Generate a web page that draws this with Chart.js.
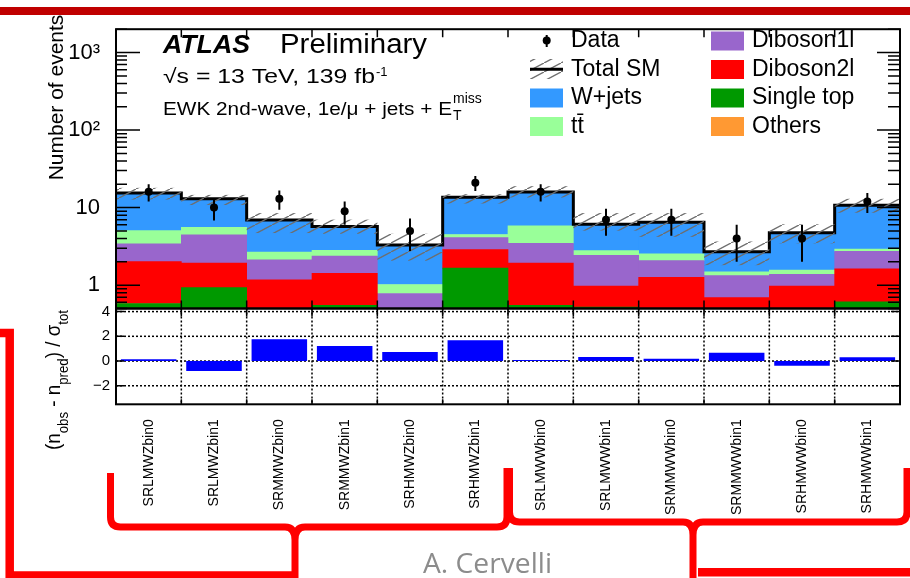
<!DOCTYPE html>
<html>
<head>
<meta charset="utf-8">
<script src="https://cdn.jsdelivr.net/npm/chart.js@4/dist/chart.umd.min.js"></script>
<style>
  html, body { margin: 0; padding: 0; background: #fff; }
  #wrap { position: relative; width: 910px; height: 578px; overflow: hidden; background: #fff; }
  #wrap canvas { position: absolute; left: 0; top: 0; }
</style>
</head>
<body>
<div id="wrap">
  <canvas id="main" width="910" height="578"></canvas>
  <canvas id="pull" width="910" height="578"></canvas>
</div>
<script>
// Signal regions (x categories)
const regions = ['SRLMWZbin0', 'SRLMWZbin1', 'SRMMWZbin0', 'SRMMWZbin1', 'SRHMWZbin0', 'SRHMWZbin1',
                 'SRLMWWbin0', 'SRLMWWbin1', 'SRMMWWbin0', 'SRMMWWbin1', 'SRHMWWbin0', 'SRHMWWbin1'];

// Background yields per region, stacked bottom to top
const others    = [0.03, 0.03, 0.03, 0.03, 0.03, 0.03, 0.03, 0.03, 0.03, 0.03, 0.03, 0.03];
const singleTop = [0.55, 0.90, 0.10, 0.52, 0.10, 1.63, 0.52, 0.49, 0.10, 0.10, 0.10, 0.58];
const diboson2l = [1.43, 0.99, 1.04, 0.87, 0.20, 1.21, 1.37, 0.45, 1.13, 0.56, 0.84, 1.02];
const diboson1l = [1.39, 2.55, 0.95, 0.96, 0.45, 1.23, 1.55, 1.45, 0.81, 0.64, 0.41, 1.11];
const ttbar     = [1.65, 1.08, 0.55, 0.44, 0.24, 0.40, 2.34, 0.37, 0.47, 0.16, 0.18, 0.19];
const wjets     = [10.35, 7.45, 4.23, 2.89, 2.28, 9.10, 10.09, 3.31, 3.96, 1.20, 3.17, 7.77];

// Total SM uncertainty band (lower / upper edge)
const bandLow  = [12.7, 10.8, 4.7, 4.6, 2.07, 11.3, 13.5, 5.05, 4.2, 1.81, 3.46, 8.6];
const bandHigh = [18.0, 14.6, 8.5, 7.0, 4.6, 14.9, 18.9, 8.5, 8.5, 3.66, 6.1, 13.0];

// Observed data with error bar ends
const observed = [16, 10, 13, 9, 5, 21, 16, 7, 7, 4, 4, 12];
const dataLow  = [12, 6.84, 9.4, 6, 2.76, 16.4, 12, 4.35, 4.35, 2, 2, 8.54];
const dataHigh = [20, 13.16, 16.6, 12, 7.24, 25.6, 20, 9.65, 9.65, 6, 6, 15.46];

// Significance (n_obs - n_pred) / sigma_tot
const pull = [0.14, -0.81, 1.76, 1.22, 0.73, 1.68, 0.08, 0.32, 0.19, 0.68, -0.38, 0.30];

// Axis ticks
const mainTickValues = [0.5, 0.6, 0.7, 0.8, 0.9, 1, 2, 3, 4, 5, 6, 7, 8, 9,
  10, 20, 30, 40, 50, 60, 70, 80, 90, 100, 200, 300, 400, 500, 600, 700, 800, 900, 1000, 2000];
const decadeLabels = { 1: '1', 10: '10', 100: '10\u00B2', 1000: '10\u00B3' };
const pullTickValues = [-2, 0, 2, 4];
const pullTickLabels = { '-2': '\u22122', '0': '0', '2': '2', '4': '4' };

const FONT = '"Liberation Sans", Arial, Helvetica, sans-serif';
const COL = {
  wjets: '#3399ff', ttbar: '#99ff99', d1l: '#9966cc', d2l: '#ff0000', st: '#009900', oth: '#ff9933'
};

// Hatch pattern for the uncertainty band
function makeHatch() {
  const c = document.createElement('canvas');
  c.width = 17; c.height = 9;
  const g = c.getContext('2d');
  g.strokeStyle = '#6e6e6e';
  g.lineWidth = 1.4;
  g.beginPath();
  g.moveTo(-1, 9.5); g.lineTo(18, -0.5);
  g.stroke();
  return g.createPattern(c, 'repeat');
}

function fitText(ctx, str, x, y, w) {
  const m = ctx.measureText(str).width;
  ctx.save();
  ctx.translate(x, y);
  if (w) ctx.scale(w / m, 1);
  ctx.fillText(str, 0, 0);
  ctx.restore();
}

function binHalf(xs) { return (xs.getPixelForValue(1) - xs.getPixelForValue(0)) / 2; }

const totals = regions.map((_, i) =>
  others[i] + singleTop[i] + diboson2l[i] + diboson1l[i] + ttbar[i] + wjets[i]);

let hatch = null;

const mainDecor = {
  id: 'mainDecor',
  beforeDatasetDraw(chart, args) {
    if (args.index !== 6) return;
    const ctx = chart.ctx, xs = chart.scales.x, ys = chart.scales.y, a = chart.chartArea;
    const h = binHalf(xs);
    if (!hatch) hatch = makeHatch();
    ctx.save();
    ctx.beginPath(); ctx.rect(a.left, a.top, a.right - a.left, a.bottom - a.top); ctx.clip();
    // total SM outline
    ctx.strokeStyle = '#000'; ctx.lineWidth = 3; ctx.lineJoin = 'miter';
    ctx.beginPath();
    totals.forEach((t, i) => {
      const c = xs.getPixelForValue(i), py = ys.getPixelForValue(t);
      if (i === 0) ctx.moveTo(c - h, py); else ctx.lineTo(c - h, py);
      ctx.lineTo(c + h, py);
    });
    ctx.stroke();
    // uncertainty band
    ctx.fillStyle = hatch;
    regions.forEach((_, i) => {
      const c = xs.getPixelForValue(i);
      const yt = ys.getPixelForValue(bandHigh[i]), yb = ys.getPixelForValue(bandLow[i]);
      ctx.fillRect(c - h, yt, 2 * h, yb - yt);
    });
    // data error bars
    ctx.strokeStyle = '#000'; ctx.lineWidth = 2;
    regions.forEach((_, i) => {
      const c = xs.getPixelForValue(i);
      ctx.beginPath();
      ctx.moveTo(c, ys.getPixelForValue(dataHigh[i]));
      ctx.lineTo(c, ys.getPixelForValue(dataLow[i]));
      ctx.stroke();
    });
    ctx.restore();
  },
  afterDraw(chart) {
    const ctx = chart.ctx, xs = chart.scales.x, ys = chart.scales.y, a = chart.chartArea;
    const h = binHalf(xs);
    ctx.save();
    ctx.strokeStyle = '#000';
    // log ticks on both sides
    ctx.lineWidth = 1.5;
    ys.ticks.forEach(t => {
      const v = t.value, py = ys.getPixelForValue(v);
      const major = decadeLabels[v] !== undefined;
      const lenL = major ? 24 : 11, lenR = major ? 23 : 12;
      ctx.beginPath();
      ctx.moveTo(a.left, py); ctx.lineTo(a.left + lenL, py);
      ctx.moveTo(a.right, py); ctx.lineTo(a.right - lenR, py);
      ctx.stroke();
    });
    // bin edge ticks
    for (let i = 1; i < regions.length; i++) {
      const ex = xs.getPixelForValue(i) - h;
      ctx.beginPath();
      ctx.moveTo(ex, a.top); ctx.lineTo(ex, a.top + 8);
      ctx.moveTo(ex, a.bottom); ctx.lineTo(ex, a.bottom - 8);
      ctx.stroke();
    }
    // frame
    ctx.lineWidth = 2;
    ctx.strokeRect(a.left, a.top, a.right - a.left, a.bottom - a.top);

    // y title
    ctx.fillStyle = '#000';
    ctx.save();
    ctx.translate(63, 97.5); ctx.rotate(-Math.PI / 2);
    ctx.font = '21px ' + FONT; ctx.textAlign = 'center'; ctx.textBaseline = 'alphabetic';
    ctx.fillText('Number of events', 0, 0);
    ctx.restore();

    // experiment label
    ctx.textAlign = 'left'; ctx.textBaseline = 'alphabetic';
    ctx.font = 'italic bold 26px ' + FONT;
    fitText(ctx, 'ATLAS', 163, 53, 87);
    ctx.font = '27px ' + FONT;
    fitText(ctx, 'Preliminary', 280, 53, 147);
    ctx.font = '20px ' + FONT;
    fitText(ctx, '\u221As = 13 TeV, 139 fb', 163, 83, 212);
    ctx.font = '13px ' + FONT;
    ctx.fillText('-1', 376, 76);
    ctx.font = '19px ' + FONT;
    fitText(ctx, 'EWK 2nd-wave, 1e/\u03BC + jets + E', 163, 115, 289);
    ctx.font = '14px ' + FONT;
    ctx.fillText('miss', 453, 103);
    ctx.fillText('T', 453, 120);

    // legend
    const rows = [47, 75.5, 104, 132.5];
    ctx.font = '23px ' + FONT;
    // Data
    ctx.beginPath(); ctx.arc(546.7, 40.5, 4, 0, Math.PI * 2); ctx.fill();
    ctx.lineWidth = 2;
    ctx.beginPath(); ctx.moveTo(546.7, 35); ctx.lineTo(546.7, 47); ctx.stroke();
    ctx.fillText('Data', 571, rows[0]);
    // Total SM
    ctx.fillStyle = hatch || makeHatch();
    ctx.fillRect(530, 59, 33, 20);
    ctx.lineWidth = 3; ctx.strokeStyle = '#000';
    ctx.beginPath(); ctx.moveTo(530, 69.3); ctx.lineTo(563, 69.3); ctx.stroke();
    ctx.fillStyle = '#000';
    ctx.fillText('Total SM', 571, rows[1]);
    const boxes = [
      [530, rows[2], COL.wjets, 'W+jets'],
      [530, rows[3], COL.ttbar, 'tt\u0304'],
      [711, rows[0], COL.d1l, 'Diboson1l'],
      [711, rows[1], COL.d2l, 'Diboson2l'],
      [711, rows[2], COL.st, 'Single top'],
      [711, rows[3], COL.oth, 'Others']
    ];
    boxes.forEach(([bx, by, col, txt]) => {
      ctx.fillStyle = col;
      ctx.fillRect(bx, by - 15.5, 33, 19);
      ctx.fillStyle = '#000';
      ctx.fillText(txt, bx + 41, by);
    });
    ctx.restore();
  }
};

const barDs = (label, data, color) => ({
  type: 'bar', label, data, backgroundColor: color, borderWidth: 0,
  barPercentage: 1.0, categoryPercentage: 1.0, yAxisID: 'y'
});

new Chart(document.getElementById('main'), {
  data: {
    labels: regions,
    datasets: [
      barDs('Others', others, COL.oth),
      barDs('Single top', singleTop, COL.st),
      barDs('Diboson2l', diboson2l, COL.d2l),
      barDs('Diboson1l', diboson1l, COL.d1l),
      barDs('ttbar', ttbar, COL.ttbar),
      barDs('W+jets', wjets, COL.wjets),
      {
        type: 'line', label: 'Data', data: observed, showLine: false, order: -1,
        pointRadius: 4, pointBackgroundColor: '#000', pointBorderColor: '#000', pointBorderWidth: 0,
        yAxisID: 'y'
      }
    ]
  },
  options: {
    responsive: false, animation: false, devicePixelRatio: 1,
    layout: { padding: { top: 15, right: 10, bottom: 578 - 308.5, left: 0 } },
    plugins: { legend: { display: false }, tooltip: { enabled: false } },
    scales: {
      x: { type: 'category', display: false, stacked: true, offset: true },
      y: {
        type: 'logarithmic', min: 0.5, max: 2000, stacked: true, position: 'left',
        grid: { display: false, drawTicks: false }, border: { display: false },
        afterBuildTicks: s => { s.ticks = mainTickValues.map(v => ({ value: v })); },
        afterFit: s => { s.width = 116; },
        ticks: {
          autoSkip: false, padding: 16, color: '#000',
          font: { size: 22, family: FONT },
          callback: v => decadeLabels[v] !== undefined ? decadeLabels[v] : ''
        }
      }
    }
  },
  plugins: [mainDecor]
});

const pullDecor = {
  id: 'pullDecor',
  beforeDatasetsDraw(chart) {
    const ctx = chart.ctx, xs = chart.scales.x, ys = chart.scales.y, a = chart.chartArea;
    const h = binHalf(xs);
    ctx.save();
    ctx.strokeStyle = '#000'; ctx.lineWidth = 1.5; ctx.setLineDash([2, 2]);
    pullTickValues.forEach(v => {
      const py = ys.getPixelForValue(v);
      ctx.beginPath(); ctx.moveTo(a.left, py); ctx.lineTo(a.right, py); ctx.stroke();
    });
    for (let i = 1; i < regions.length; i++) {
      const ex = xs.getPixelForValue(i) - h;
      ctx.beginPath(); ctx.moveTo(ex, a.top); ctx.lineTo(ex, a.bottom); ctx.stroke();
    }
    ctx.restore();
  },
  afterDraw(chart) {
    const ctx = chart.ctx, xs = chart.scales.x, ys = chart.scales.y, a = chart.chartArea;
    const h = binHalf(xs);
    ctx.save();
    ctx.strokeStyle = '#000'; ctx.lineWidth = 1.5;
    pullTickValues.forEach(v => {
      const py = ys.getPixelForValue(v);
      ctx.beginPath();
      ctx.moveTo(a.left, py); ctx.lineTo(a.left + 8, py);
      ctx.moveTo(a.right, py); ctx.lineTo(a.right - 9, py);
      ctx.stroke();
    });
    for (let i = 1; i < regions.length; i++) {
      const ex = xs.getPixelForValue(i) - h;
      ctx.beginPath();
      ctx.moveTo(ex, a.top); ctx.lineTo(ex, a.top + 8);
      ctx.moveTo(ex, a.bottom); ctx.lineTo(ex, a.bottom - 5);
      ctx.stroke();
    }
    ctx.lineWidth = 2;
    ctx.strokeRect(a.left, a.top, a.right - a.left, a.bottom - a.top);

    // y title with subscripts, read bottom to top
    ctx.fillStyle = '#000';
    ctx.save();
    ctx.translate(60, 450); ctx.rotate(-Math.PI / 2);
    ctx.textAlign = 'left'; ctx.textBaseline = 'alphabetic';
    const parts = [['(n', 20, 0], ['obs', 14, 8], [' - n', 20, 0], ['pred', 14, 8], [') / \u03C3', 20, 0], ['tot', 14, 8]];
    let w = 0;
    parts.forEach(p => { ctx.font = p[1] + 'px ' + FONT; w += ctx.measureText(p[0]).width; });
    ctx.scale(140 / w, 1);
    let px = 0;
    parts.forEach(p => {
      ctx.font = p[1] + 'px ' + FONT;
      ctx.fillText(p[0], px, p[2]);
      px += ctx.measureText(p[0]).width;
    });
    ctx.restore();

    // slide annotations
    ctx.fillStyle = '#c00000';
    ctx.fillRect(0, 7, 910, 8);
    ctx.strokeStyle = '#ff0000'; ctx.lineJoin = 'miter'; ctx.lineCap = 'butt';
    ctx.lineWidth = 8.5;
    ctx.beginPath();
    ctx.moveTo(0, 333); ctx.lineTo(9.7, 333); ctx.lineTo(9.7, 575.5); ctx.lineTo(298, 575.5);
    ctx.moveTo(698, 572.3); ctx.lineTo(910, 572.3);
    ctx.stroke();
    ctx.lineWidth = 7; ctx.lineJoin = 'round';
    ctx.beginPath();
    ctx.moveTo(110.5, 473); ctx.lineTo(110.5, 517);
    ctx.quadraticCurveTo(110.5, 527, 120.5, 527); ctx.lineTo(285, 527);
    ctx.quadraticCurveTo(295, 527, 295, 540); ctx.lineTo(295, 578);
    ctx.moveTo(295, 540); ctx.quadraticCurveTo(295, 527, 305, 527); ctx.lineTo(497, 527);
    ctx.quadraticCurveTo(507, 527, 507, 517); ctx.lineTo(507, 468);
    ctx.moveTo(509.5, 468); ctx.lineTo(509.5, 512);
    ctx.quadraticCurveTo(509.5, 522, 519.5, 522); ctx.lineTo(683, 522);
    ctx.quadraticCurveTo(693, 522, 693, 535); ctx.lineTo(693, 578);
    ctx.moveTo(693, 535); ctx.quadraticCurveTo(693, 522, 703, 522); ctx.lineTo(897, 522);
    ctx.quadraticCurveTo(907, 522, 907, 512); ctx.lineTo(907, 468);
    ctx.stroke();

    ctx.fillStyle = '#8c8c8c';
    ctx.font = '28px "Open Sans", Lato, sans-serif';
    ctx.textAlign = 'left';
    fitText(ctx, 'A. Cervelli', 423, 573, 129);
    ctx.restore();
  }
};

new Chart(document.getElementById('pull'), {
  type: 'bar',
  data: {
    labels: regions,
    datasets: [{
      label: 'Significance', data: pull, backgroundColor: '#0000ff', borderWidth: 0,
      barPercentage: 0.85, categoryPercentage: 1.0
    }]
  },
  options: {
    responsive: false, animation: false, devicePixelRatio: 1,
    layout: { padding: { top: 308.5, right: 10, bottom: 0, left: 0 } },
    plugins: { legend: { display: false }, tooltip: { enabled: false } },
    scales: {
      x: {
        type: 'category', offset: true,
        grid: { display: false, drawTicks: false }, border: { display: false },
        afterFit: s => { s.height = 578 - 404.3; },
        ticks: {
          autoSkip: false, minRotation: 90, maxRotation: 90, padding: 15, color: '#000',
          font: { size: 14, family: FONT }
        }
      },
      y: {
        type: 'linear', min: -3.5, max: 4.25, position: 'left',
        grid: { display: false, drawTicks: false }, border: { display: false },
        afterBuildTicks: s => { s.ticks = pullTickValues.map(v => ({ value: v })); },
        afterFit: s => { s.width = 116; },
        ticks: {
          autoSkip: false, padding: 6, color: '#000',
          font: { size: 15, family: FONT },
          callback: v => pullTickLabels[String(v)]
        }
      }
    }
  },
  plugins: [pullDecor]
});
</script>
</body>
</html>
